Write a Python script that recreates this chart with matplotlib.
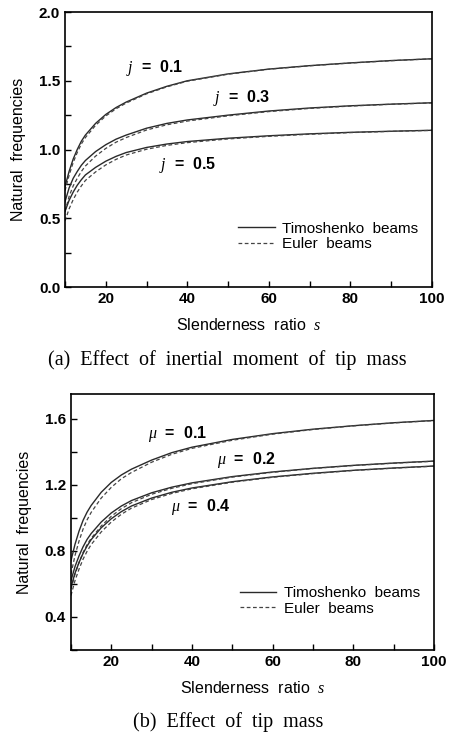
import numpy as np
import matplotlib.pyplot as plt
from matplotlib.ticker import MultipleLocator

plt.rcParams['font.family'] = ['Liberation Sans', 'DejaVu Sans']
plt.rcParams['mathtext.fontset'] = 'custom'
plt.rcParams['mathtext.it'] = 'Liberation Serif:italic'
plt.rcParams['mathtext.rm'] = 'Liberation Serif'

# slenderness ratio
s = [10, 11, 12, 13, 14, 15, 17.5, 20, 22.5, 25, 30, 35, 40, 50, 60, 70, 80, 90, 100]

# (a) inertial moment of tip mass j
j_labels = ['0.1', '0.3', '0.5']
j_timo = [
    [0.73, 0.84, 0.93, 1.00, 1.06, 1.105, 1.19, 1.255, 1.305, 1.345, 1.41, 1.46, 1.50, 1.55, 1.585, 1.61, 1.63, 1.647, 1.66],
    [0.62, 0.72, 0.79, 0.84, 0.885, 0.92, 0.985, 1.035, 1.075, 1.105, 1.155, 1.19, 1.215, 1.25, 1.28, 1.302, 1.318, 1.33, 1.34],
    [0.55, 0.63, 0.69, 0.74, 0.78, 0.815, 0.87, 0.915, 0.95, 0.978, 1.015, 1.04, 1.058, 1.082, 1.10, 1.114, 1.125, 1.133, 1.14],
]
j_euler = [
    [0.70, 0.812, 0.905, 0.978, 1.04, 1.087, 1.176, 1.244, 1.296, 1.338, 1.405, 1.456, 1.497, 1.548, 1.584, 1.609, 1.629, 1.646, 1.66],
    [0.55, 0.658, 0.735, 0.79, 0.84, 0.88, 0.952, 1.008, 1.053, 1.087, 1.142, 1.18, 1.207, 1.245, 1.276, 1.299, 1.316, 1.329, 1.339],
    [0.48, 0.568, 0.635, 0.69, 0.735, 0.775, 0.837, 0.888, 0.928, 0.96, 1.002, 1.03, 1.05, 1.077, 1.096, 1.111, 1.123, 1.132, 1.139],
]
j_pos = [(25, 1.59), (46.3, 1.372), (33.1, 0.887)]

# (b) tip mass mu
mu_labels = ['0.1', '0.2', '0.4']
mu_timo = [
    [0.74, 0.84, 0.92, 0.985, 1.035, 1.075, 1.155, 1.215, 1.26, 1.295, 1.35, 1.395, 1.428, 1.475, 1.51, 1.537, 1.558, 1.576, 1.59],
    [0.62, 0.705, 0.77, 0.825, 0.87, 0.905, 0.975, 1.03, 1.072, 1.105, 1.152, 1.186, 1.212, 1.25, 1.278, 1.30, 1.318, 1.332, 1.344],
    [0.58, 0.665, 0.73, 0.785, 0.83, 0.868, 0.94, 0.995, 1.038, 1.072, 1.12, 1.155, 1.181, 1.219, 1.248, 1.27, 1.288, 1.302, 1.314],
]
mu_euler = [
    [0.66, 0.772, 0.86, 0.932, 0.988, 1.033, 1.12, 1.185, 1.237, 1.275, 1.337, 1.385, 1.421, 1.47, 1.507, 1.535, 1.557, 1.575, 1.589],
    [0.57, 0.66, 0.73, 0.79, 0.838, 0.876, 0.951, 1.01, 1.056, 1.092, 1.143, 1.179, 1.207, 1.247, 1.276, 1.299, 1.317, 1.331, 1.343],
    [0.53, 0.62, 0.69, 0.75, 0.798, 0.838, 0.915, 0.975, 1.022, 1.059, 1.111, 1.148, 1.176, 1.216, 1.246, 1.268, 1.287, 1.301, 1.313],
]
mu_pos = [(29.0, 1.509), (46.1, 1.348), (34.9, 1.066)]

fig = plt.figure(figsize=(4.52, 7.38), dpi=100)
ax1 = fig.add_axes([0.1438, 0.6111, 0.812, 0.3726])
ax2 = fig.add_axes([0.157, 0.1192, 0.803, 0.3469])


def draw(ax, timo, euler, labels, pos, sym):
    for k in range(len(timo)):
        l1, = ax.plot(s, timo[k], color='#2a2a2a', lw=1.0)
        l2, = ax.plot(s, euler[k], color='#444444', lw=0.9, ls=(0, (3, 2)))
        ax.text(pos[k][0], pos[k][1], sym + '  =  ' + labels[k], fontsize=11.5,
                fontweight='bold', va='center', ha='left')
    l1.set_label('Timoshenko  beams')
    l2.set_label('Euler  beams')
    ax.legend(loc='lower right', bbox_to_anchor=(1.0, 0.08), frameon=False,
              fontsize=11, handlelength=2.4, handletextpad=0.5, labelspacing=0.1)
    ax.set_xlim(10, 100)
    ax.xaxis.set_major_locator(MultipleLocator(20))
    ax.xaxis.set_minor_locator(MultipleLocator(10))
    ax.tick_params(which='both', direction='in', length=4, width=1,
                   top=False, right=False, labelsize=11)
    for sp in ax.spines.values():
        sp.set_linewidth(1.2)
    ax.set_xlabel('Slenderness  ratio  $s$', fontsize=11.5, labelpad=8)
    ax.set_ylabel('Natural  frequencies', fontsize=11.5, labelpad=9)


draw(ax1, j_timo, j_euler, j_labels, j_pos, '$j$')
ax1.set_ylim(0, 2.0)
ax1.yaxis.set_major_locator(MultipleLocator(0.5))
ax1.yaxis.set_minor_locator(MultipleLocator(0.25))
ax1.yaxis.set_major_formatter(plt.FormatStrFormatter('%.1f'))

draw(ax2, mu_timo, mu_euler, mu_labels, mu_pos, r'$\mu$')
ax2.set_ylim(0.2, 1.75)
ax2.yaxis.set_major_formatter(plt.FormatStrFormatter('%.1f'))
ax2.set_yticks([0.4, 0.8, 1.2, 1.6])
ax2.set_yticks([0.2, 0.6, 1.0, 1.4], minor=True)

for ax in (ax1, ax2):
    for t in ax.get_xticklabels() + ax.get_yticklabels():
        t.set_fontweight('bold')

fig.text(0.502, 1 - 360 / 738, '(a)  Effect  of  inertial  moment  of  tip  mass',
         family='Liberation Serif', fontsize=14.5, ha='center', va='center')
fig.text(0.505, 1 - 722 / 738, '(b)  Effect  of  tip  mass',
         family='Liberation Serif', fontsize=14.5, ha='center', va='center')

fig.savefig('out.png', dpi=100)
